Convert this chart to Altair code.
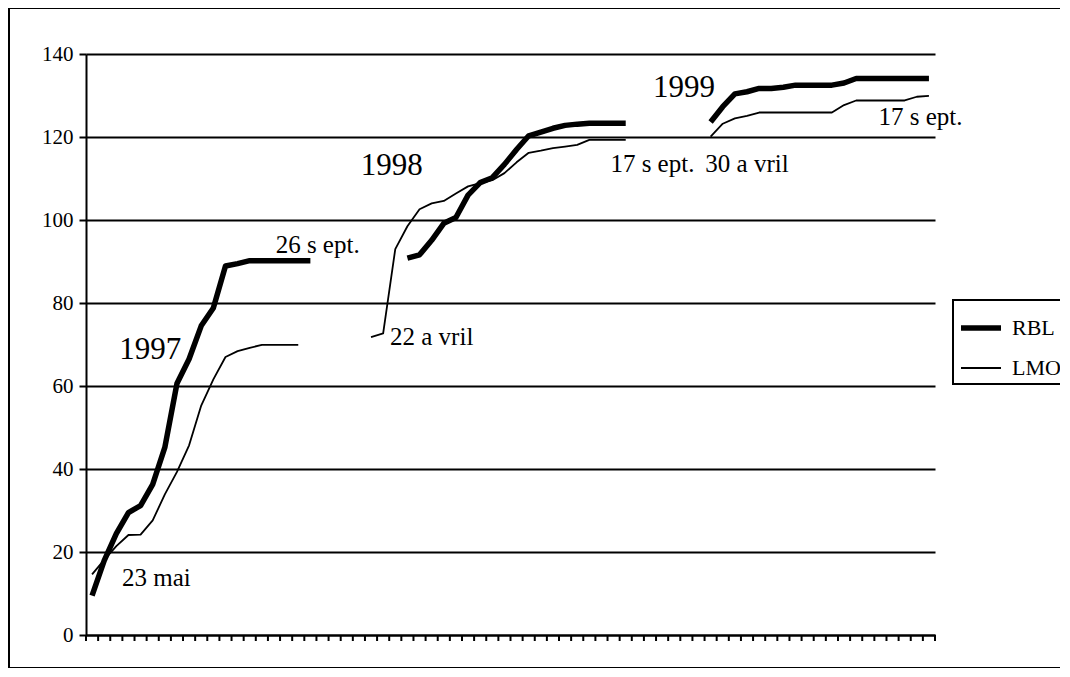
import altair as alt
import pandas as pd

# Period (category) index of the first point of each yearly segment, and the values
rbl_1997_start = 0
rbl_1997 = [9.5, 17.9, 24.4, 29.5, 31.2, 36.3, 45.2, 60.6, 66.5, 74.5, 78.8, 88.9, 89.5,
            90.2, 90.2, 90.2, 90.2, 90.2, 90.2]
lmo_1997_start = 0
lmo_1997 = [14.6, 18.1, 21.4, 24.1, 24.2, 27.6, 33.9, 39.3, 45.7, 55.3, 61.6, 67.0, 68.4,
            69.2, 69.9, 69.9, 69.9, 69.9]
rbl_1998_start = 26
rbl_1998 = [90.8, 91.6, 95.1, 99.2, 100.6, 106.0, 109.0, 110.2, 113.4, 117.0, 120.3, 121.2,
            122.1, 122.8, 123.1, 123.3, 123.3, 123.3, 123.3]
lmo_1998_start = 23
lmo_1998 = [71.8, 72.7, 93.0, 98.5, 102.6, 104.0, 104.6, 106.4, 108.1, 108.9, 109.6, 111.3,
            113.9, 116.2, 116.7, 117.3, 117.7, 118.1, 119.3, 119.3, 119.3, 119.3]
rbl_1999_start = 51
rbl_1999 = [123.6, 127.3, 130.4, 130.9, 131.7, 131.7, 132.0, 132.5, 132.5, 132.5, 132.5,
            133.0, 134.1, 134.1, 134.1, 134.1, 134.1, 134.1, 134.1]
lmo_1999_start = 51
lmo_1999 = [120.1, 123.2, 124.5, 125.1, 125.9, 125.9, 125.9, 125.9, 125.9, 125.9, 125.9,
            127.7, 128.8, 128.8, 128.8, 128.8, 128.8, 129.7, 129.9]

n_periods = 70
y_ticks = [0, 20, 40, 60, 80, 100, 120, 140]

series_names = ["RBL", "LMO"]

year_text = ["1997", "1998", "1999"]
year_x = [5.3, 25.2, 49.3]
year_y = [68.7, 113.0, 131.8]

date_text = ["23 mai", "26 s ept.", "22 a vril", "17 s ept.", "30 a vril", "17 s ept."]
date_x = [5.8, 19.1, 28.5, 46.7, 54.5, 68.8]
date_y = [13.7, 94.0, 71.8, 113.5, 113.5, 124.8]

segments = [
    ("RBL", "1997", rbl_1997_start, rbl_1997),
    ("LMO", "1997", lmo_1997_start, lmo_1997),
    ("RBL", "1998", rbl_1998_start, rbl_1998),
    ("LMO", "1998", lmo_1998_start, lmo_1998),
    ("RBL", "1999", rbl_1999_start, rbl_1999),
    ("LMO", "1999", lmo_1999_start, lmo_1999),
]
rows = []
for name, year, start, vals in segments:
    for k, v in enumerate(vals):
        rows.append({"series": name, "segment": name + " " + year,
                     "pos": start + k + 0.5, "value": v})
df = pd.DataFrame(rows)
years = pd.DataFrame({"label": year_text, "x": year_x, "y": year_y})
dates = pd.DataFrame({"label": date_text, "x": date_x, "y": date_y})
tick_df = pd.DataFrame({"b": list(range(n_periods + 1))})

FONT = "Liberation Serif"
W, H = 849, 581

x_scale = alt.Scale(domain=[0, n_periods], nice=False, zero=False)
y_scale = alt.Scale(domain=[0, 140], nice=False)

lines = alt.Chart(df).mark_line(color="black", strokeCap="butt", strokeJoin="round").encode(
    x=alt.X("pos:Q", scale=x_scale,
            axis=alt.Axis(labels=False, title=None, ticks=False,
                          domainColor="black", domainWidth=2, grid=False)),
    y=alt.Y("value:Q", scale=y_scale,
            axis=alt.Axis(values=y_ticks, title=None, grid=True, gridColor="black",
                          gridWidth=2, gridOpacity=1, tickSize=7, tickWidth=2,
                          tickColor="black", domainColor="black", domainWidth=2,
                          labelFont=FONT, labelFontSize=21, labelColor="black",
                          labelPadding=6)),
    detail="segment:N",
    strokeWidth=alt.StrokeWidth(
        "series:N",
        scale=alt.Scale(domain=series_names, range=[5.5, 1.8]),
        legend=alt.Legend(title=None, orient="none", legendX=867, legendY=246,
                          symbolType="stroke", symbolStrokeColor="black",
                          symbolSize=1600, labelFont=FONT, labelFontSize=22,
                          labelColor="black", labelOffset=8, padding=5,
                          rowPadding=8, strokeColor="black", fillColor="white"),
    ),
)

x_ticks = alt.Chart(tick_df).mark_rule(color="black", strokeWidth=2).encode(
    x=alt.X("b:Q", scale=x_scale),
    y=alt.value(H),
    y2=alt.value(H + 6),
)

year_labels = alt.Chart(years).mark_text(font=FONT, fontSize=31, color="black",
                                         align="center", baseline="middle").encode(
    x=alt.X("x:Q", scale=x_scale),
    y=alt.Y("y:Q", scale=y_scale),
    text="label:N",
)
date_labels = alt.Chart(dates).mark_text(font=FONT, fontSize=25, color="black",
                                         align="center", baseline="middle").encode(
    x=alt.X("x:Q", scale=x_scale),
    y=alt.Y("y:Q", scale=y_scale),
    text="label:N",
)

frame_top = alt.Chart(years).mark_rule(color="black", strokeWidth=2).encode(
    x=alt.value(-77), x2=alt.value(W + 125), y=alt.value(-46))
frame_left = alt.Chart(years).mark_rule(color="black", strokeWidth=2).encode(
    x=alt.value(-77), y=alt.value(-46), y2=alt.value(614))
frame_bottom = alt.Chart(years).mark_rule(color="black", strokeWidth=2).encode(
    x=alt.value(-77), x2=alt.value(W + 125), y=alt.value(614))

chart = alt.layer(lines, x_ticks, year_labels, date_labels,
                  frame_top, frame_left, frame_bottom).properties(
    width=W, height=H,
    padding={"left": 78, "top": 46, "right": 125, "bottom": 33},
    autosize=alt.AutoSizeParams(type="none"),
    background="white",
).configure_view(strokeWidth=0).configure_legend(strokeWidth=2)

chart.save("out.html", embed_options={"renderer": "svg", "actions": False})
